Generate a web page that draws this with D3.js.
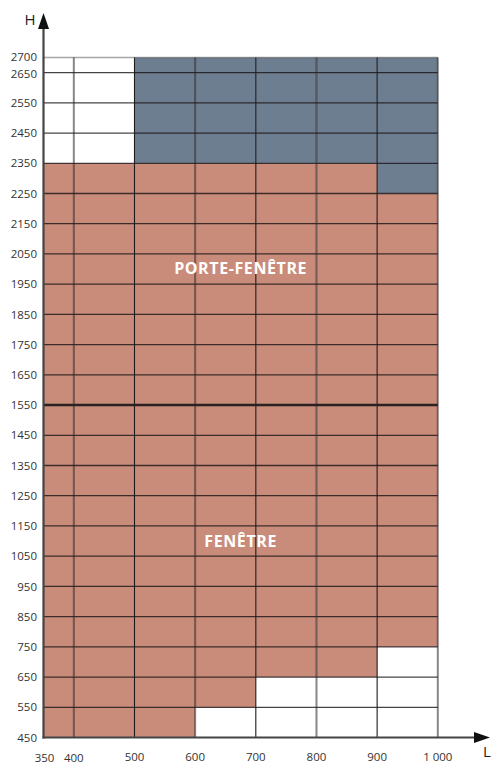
<!DOCTYPE html>
<html>
<head>
<meta charset="utf-8">
<script src="https://cdn.jsdelivr.net/npm/d3@7"></script>
<style>
  body { margin: 0; background: #fff; }
  svg text { font-family: "Open Sans", sans-serif; }
</style>
</head>
<body>
<div id="chart"></div>
<script>
// column edges (largeur L, mm)
var widthEdges = [350, 400, 500, 600, 700, 800, 900, 1000];
// per column: fenetre/porte-fenetre zone (red) bottom and top, then blue zone top
var redMin = [450, 450, 450, 550, 650, 650, 750];
var redMax = [2350, 2350, 2350, 2350, 2350, 2350, 2250];
var blueMax = [null, null, 2700, 2700, 2700, 2700, 2700];

var yTicks = [450, 550, 650, 750, 850, 950, 1050, 1150, 1250, 1350, 1450, 1550,
  1650, 1750, 1850, 1950, 2050, 2150, 2250, 2350, 2450, 2550, 2650, 2700];
var xTicks = [350, 400, 500, 600, 700, 800, 900, 1000];
var xTickLabels = ['350', '400', '500', '600', '700', '800', '900', '1 000'];
var separator = 1550;

var width = 491, height = 767;
var x = d3.scaleLinear().domain([350, 1000]).range([43.5, 437.8]);
var y = d3.scaleLinear().domain([450, 2700]).range([737.5, 57.5]);

var svg = d3.select('#chart').append('svg')
  .attr('width', width).attr('height', height);

var cols = d3.range(widthEdges.length - 1).map(function(i) {
  return {x0: widthEdges[i], x1: widthEdges[i + 1], r0: redMin[i], r1: redMax[i], b1: blueMax[i]};
});

// red zone
svg.selectAll('.red').data(cols).enter().append('rect')
  .attr('x', function(d) { return x(d.x0); })
  .attr('width', function(d) { return x(d.x1) - x(d.x0); })
  .attr('y', function(d) { return y(d.r1); })
  .attr('height', function(d) { return y(d.r0) - y(d.r1); })
  .attr('fill', '#c98b7a');

// blue zone
svg.selectAll('.blue').data(cols.filter(function(d) { return d.b1; })).enter().append('rect')
  .attr('x', function(d) { return x(d.x0); })
  .attr('width', function(d) { return x(d.x1) - x(d.x0); })
  .attr('y', function(d) { return y(d.b1); })
  .attr('height', function(d) { return y(d.r1) - y(d.b1); })
  .attr('fill', '#6e7e91');

// horizontal grid
svg.selectAll('.hg').data(yTicks.filter(function(v) { return v > 450; })).enter().append('line')
  .attr('x1', x(350)).attr('x2', x(1000))
  .attr('y1', function(d) { return y(d); }).attr('y2', function(d) { return y(d); })
  .attr('stroke', function(d) { return d === 2700 ? 'rgba(60,60,60,0.45)' : 'rgba(25,20,20,0.8)'; })
  .attr('stroke-width', 1.3);

// vertical grid
svg.selectAll('.vg').data(xTicks.filter(function(v) { return v > 350; })).enter().append('line')
  .attr('x1', function(d) { return x(d); }).attr('x2', function(d) { return x(d); })
  .attr('y1', y(2700)).attr('y2', y(450))
  .attr('stroke', function(d) { return d % 200 === 0 ? 'rgba(40,35,35,0.55)' : '#1c1c1c'; })
  .attr('stroke-width', function(d) { return d % 200 === 0 ? 2 : 1.1; });

// separator fenetre / porte-fenetre
svg.append('line')
  .attr('x1', x(350)).attr('x2', x(1000))
  .attr('y1', y(separator)).attr('y2', y(separator))
  .attr('stroke', '#2a2222').attr('stroke-width', 2.6);

// axes
var axisColor = '#444';
svg.append('line').attr('x1', x(350)).attr('x2', x(350))
  .attr('y1', y(450) + 1).attr('y2', 26)
  .attr('stroke', axisColor).attr('stroke-width', 2.2);
svg.append('path')
  .attr('d', 'M' + (x(350) - 5.5) + ',29 L' + x(350) + ',13 L' + (x(350) + 5.5) + ',29 Z')
  .attr('fill', '#111');
svg.append('line').attr('x1', x(350) - 1).attr('x2', 476)
  .attr('y1', y(450)).attr('y2', y(450))
  .attr('stroke', axisColor).attr('stroke-width', 2.2);
svg.append('path')
  .attr('d', 'M474,' + (y(450) - 5.5) + ' L490,' + y(450) + ' L474,' + (y(450) + 5.5) + ' Z')
  .attr('fill', '#111');

svg.append('text').attr('x', 30).attr('y', 25).attr('text-anchor', 'middle')
  .attr('font-size', 15).attr('fill', '#222').text('H');
svg.append('text').attr('x', 487).attr('y', 757).attr('text-anchor', 'middle')
  .attr('font-size', 15).attr('fill', '#222').text('L');

// y tick labels
svg.selectAll('.yl').data(yTicks).enter().append('text')
  .attr('x', 37)
  .attr('y', function(d) { return y(d) + 4.2 + (d === 2700 ? -1 : d === 2650 ? 1 : 0); })
  .attr('text-anchor', 'end').attr('font-size', 11.5).attr('fill', '#333')
  .text(function(d) { return d; });

// x tick labels
svg.selectAll('.xl').data(xTicks).enter().append('text')
  .attr('x', function(d) { return d === 350 ? x(d) + 1 : x(d); })
  .attr('y', function(d) { return d < 500 ? 762 : 761; })
  .attr('text-anchor', 'middle').attr('font-size', 11.5).attr('fill', '#333')
  .text(function(d, i) { return xTickLabels[i]; });

// zone labels
svg.append('text').attr('x', x(675)).attr('y', 274)
  .attr('text-anchor', 'middle').attr('font-size', 16).attr('font-weight', 700)
  .attr('letter-spacing', 0.6)
  .attr('fill', '#fff').text('PORTE-FENÊTRE');
svg.append('text').attr('x', x(675)).attr('y', 547)
  .attr('text-anchor', 'middle').attr('font-size', 16).attr('font-weight', 700)
  .attr('letter-spacing', 0.6)
  .attr('fill', '#fff').text('FENÊTRE');
</script>
</body>
</html>
